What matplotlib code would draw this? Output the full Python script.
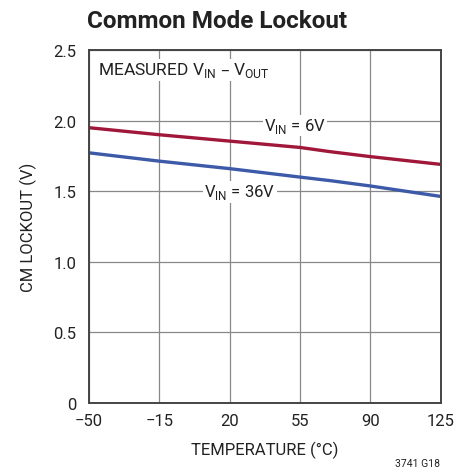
import numpy as np
import matplotlib.pyplot as plt

temp = [-50, -15, 20, 55, 70, 90, 125]
vin_6v = [1.95, 1.90, 1.855, 1.81, 1.78, 1.745, 1.69]
vin_36v = [1.772, 1.713, 1.66, 1.60, 1.575, 1.537, 1.463]

xticks = [-50, -15, 20, 55, 90, 125]
xticklabels = ["\u221250", "\u221215", "20", "55", "90", "125"]
yticks = [0, 0.5, 1.0, 1.5, 2.0, 2.5]
yticklabels = ["0", "0.5", "1.0", "1.5", "2.0", "2.5"]

plt.rcParams["font.family"] = ["Liberation Sans Narrow", "Roboto", "DejaVu Sans"]

fig = plt.figure(figsize=(4.66, 4.77), dpi=100)
ax = fig.add_axes([0.191, 0.153, 0.755, 0.740])

ax.plot(temp, vin_6v, c="#a0173a", lw=2.4, solid_capstyle="butt")
ax.plot(temp, vin_36v, c="#3d5aa8", lw=2.4, solid_capstyle="butt")

ax.set_xlim(-50, 125)
ax.set_ylim(0, 2.5)
ax.set_xticks(xticks)
ax.set_xticklabels(xticklabels)
ax.set_yticks(yticks)
ax.set_yticklabels(yticklabels)
ax.tick_params(axis="both", length=0, labelsize=12, colors="#222222")
ax.tick_params(axis="x", pad=7)
ax.tick_params(axis="y", pad=9)
ax.grid(True, color="#888888", lw=0.9)
for s in ax.spines.values():
    s.set_color("#444444")
    s.set_linewidth(1.4)

box = dict(facecolor="white", edgecolor="none", pad=1)
ax.text(-45.5, 2.36, "MEASURED V$_{\\mathregular{IN}}$ \u2013 V$_{\\mathregular{OUT}}$",
        fontsize=12.5, color="#222222", va="center", ha="left", bbox=box)
ax.text(52.5, 1.965, "V$_{\\mathregular{IN}}$ = 6V", fontsize=12, color="#222222",
        va="center", ha="center", bbox=box)
ax.text(25, 1.495, "V$_{\\mathregular{IN}}$ = 36V", fontsize=12, color="#222222",
        va="center", ha="center", bbox=box)

ax.set_xlabel("TEMPERATURE (\u00b0C)", fontsize=12, color="#222222", labelpad=9)
ax.set_ylabel("CM LOCKOUT (V)", fontsize=12, color="#222222", labelpad=12)
fig.text(0.187, 0.955, "Common Mode Lockout", fontsize=17.5, fontweight="bold",
         color="#222222", ha="left", va="center")
fig.text(0.945, 0.027, "3741 G18", fontsize=7.5, color="#222222", ha="right", va="center")

fig.savefig("out.png", dpi=100)
